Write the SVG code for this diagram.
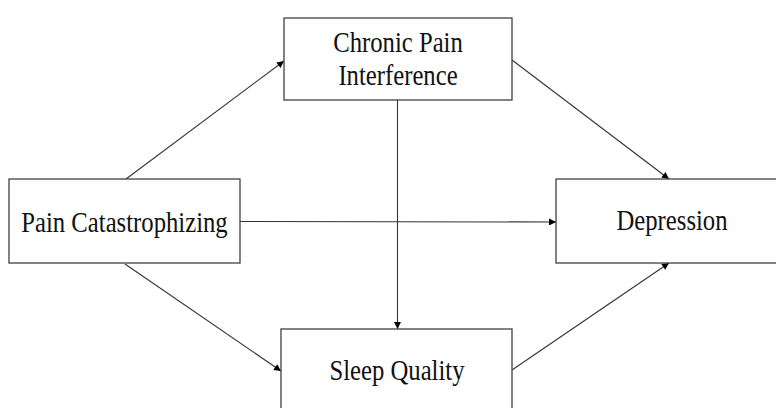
<svg xmlns="http://www.w3.org/2000/svg" width="776" height="408" viewBox="0 0 776 408">
<style>
.box{fill:#fff;stroke:#404040;stroke-width:1.3}
.lbl{font-family:"Liberation Serif","Times New Roman",serif;font-size:24.7px;fill:#111;text-anchor:middle}
.edge{stroke:#333;stroke-width:1.1;fill:none;marker-end:url(#ah)}
</style>
<defs>
<marker id="ah" viewBox="0 0 10 10" refX="10" refY="5" markerWidth="8" markerHeight="7" markerUnits="userSpaceOnUse" orient="auto">
<path d="M0,0 L10,5 L0,10 z" fill="#000"/>
</marker>
</defs>
<rect width="776" height="408" fill="#fff"/>
<g id="connectors">
<line class="edge" x1="126" y1="179" x2="284" y2="61"/>
<line class="edge" x1="125" y1="264" x2="281" y2="371"/>
<line class="edge" x1="512" y1="60" x2="669" y2="179"/>
<line class="edge" x1="512" y1="370" x2="669" y2="263"/>
<line class="edge" x1="240" y1="221.5" x2="556" y2="222"/>
<line class="edge" x1="397.5" y1="100" x2="397.5" y2="329"/>
</g>
<g id="node-cpi">
<rect class="box" x="284" y="18" width="228" height="82"/>
<text class="lbl" transform="translate(398,52) scale(1,1.2)">Chronic Pain</text>
<text class="lbl" transform="translate(398,85) scale(1,1.2)">Interference</text>
</g>
<g id="node-pc">
<rect class="box" x="9" y="179" width="231" height="84"/>
<text class="lbl" transform="translate(124.5,232) scale(1,1.2)">Pain Catastrophizing</text>
</g>
<g id="node-dep">
<rect class="box" x="556" y="179" width="230" height="84"/>
<text class="lbl" transform="translate(672,230) scale(1,1.2)">Depression</text>
</g>
<g id="node-sq">
<rect class="box" x="281" y="329" width="231" height="90"/>
<text class="lbl" transform="translate(397,380) scale(1,1.2)">Sleep Quality</text>
</g>
</svg>
